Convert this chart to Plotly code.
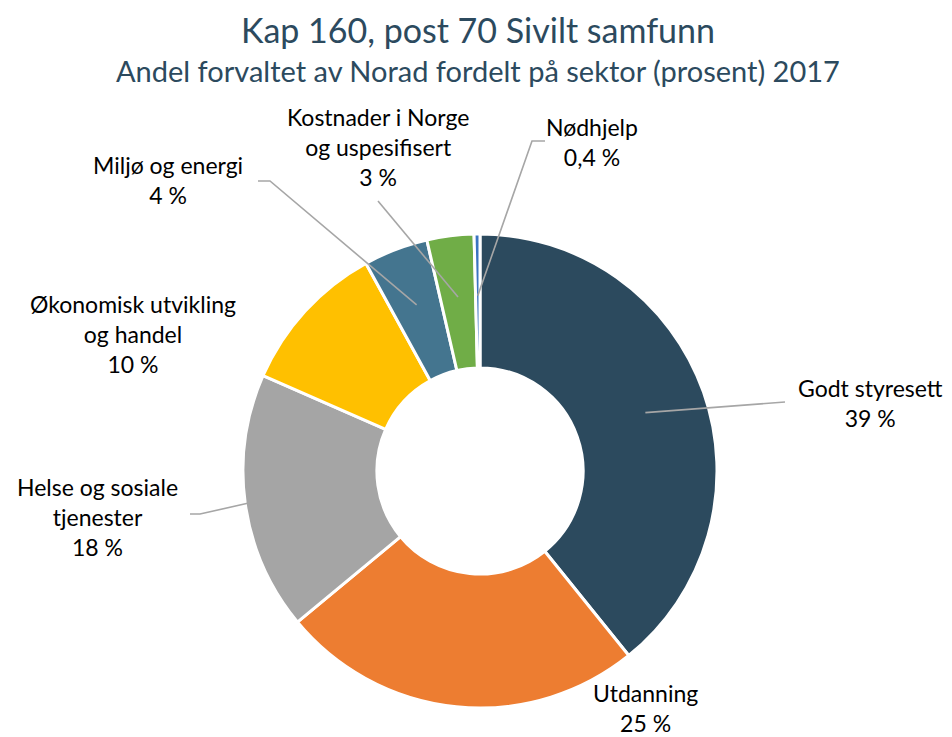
import math
import plotly.graph_objects as go

# ---- data ----
sectors = ["Godt styresett", "Utdanning", "Helse og sosiale tjenester",
           "Økonomisk utvikling og handel", "Miljø og energi",
           "Kostnader i Norge og uspesifisert", "Nødhjelp"]
shares = [39.2, 24.8, 17.6, 10.4, 4.4, 3.2, 0.4]
label_texts = ["Godt styresett<br>39 %", "Utdanning<br>25 %",
               "Helse og sosiale<br>tjenester<br>18 %",
               "Økonomisk utvikling<br>og handel<br>10 %",
               "Miljø og energi<br>4 %",
               "Kostnader i Norge<br>og uspesifisert<br>3 %",
               "Nødhjelp<br>0,4 %"]
colors = ["#2C4A5E", "#ED7D31", "#A5A5A5", "#FFC000", "#44758F", "#70AD47", "#3A74C0"]

# ---- layout geometry (reference pixels) ----
W, H = 952, 737
OFF = 8  # page body margin
FW, FH = W - OFF, H - OFF
CX, CY, R = 480, 471, 237
HOLE = 0.435

label_pos = [(870, 403), (645, 708), (97, 517), (133, 334), (168, 180), (378, 147), (592, 142)]
leaders = [
    (0.74, None, (785, 402)),
    None,
    (0.99, (200, 514), (190, 514)),
    None,
    (0.75, (270, 181), (258, 181)),
    (0.74, None, (378, 201)),
    (0.74, (532, 141), (545, 141)),
]

def px(x):
    return (x - OFF) / FW

def py(y):
    return 1 - (y - OFF) / FH

FONT = "Lato, sans-serif"

fig = go.Figure(go.Pie(
    labels=sectors, values=shares, sort=False, direction="clockwise", rotation=0,
    hole=HOLE, textinfo="none", hoverinfo="label+percent",
    marker=dict(colors=colors, line=dict(color="white", width=3)),
    domain=dict(x=[px(CX - R), px(CX + R)], y=[py(CY + R), py(CY - R)]),
    showlegend=False,
))

total = sum(shares)
cum = 0.0
shapes = []
annotations = []
for i, v in enumerate(shares):
    mid = (cum + v / 2) / total * 2 * math.pi
    cum += v
    lx, ly = label_pos[i]
    annotations.append(dict(x=px(lx), y=py(ly), xref="paper", yref="paper",
                            text=label_texts[i], showarrow=False,
                            font=dict(family=FONT, size=23, color="#000000"),
                            align="center", xanchor="center", yanchor="middle"))
    if leaders[i] is not None:
        frac, elbow, end = leaders[i]
        ax = CX + frac * R * math.sin(mid)
        ay = CY - frac * R * math.cos(mid)
        pts = [(ax, ay)]
        if elbow:
            pts.append(elbow)
        pts.append(end)
        path = "M " + " L ".join(f"{px(x):.5f},{py(y):.5f}" for x, y in pts)
        shapes.append(dict(type="path", path=path, xref="paper", yref="paper",
                           line=dict(color="#A6A6A6", width=1.6)))

annotations.append(dict(x=px(478), y=1, xref="paper", yref="paper",
                        text="Kap 160, post 70 Sivilt samfunn", showarrow=False,
                        font=dict(family=FONT, size=34, color="#2C4A5E"),
                        xanchor="center", yanchor="top", borderpad=0))
annotations.append(dict(x=px(478), y=py(71), xref="paper", yref="paper",
                        text="Andel forvaltet av Norad fordelt på sektor (prosent) 2017",
                        showarrow=False,
                        font=dict(family=FONT, size=29, color="#2C4A5E"),
                        xanchor="center", yanchor="middle"))

fig.update_layout(width=FW, height=FH, margin=dict(l=0, r=0, t=0, b=0),
                  paper_bgcolor="white", plot_bgcolor="white",
                  shapes=shapes, annotations=annotations)
fig.write_html("out.html")
